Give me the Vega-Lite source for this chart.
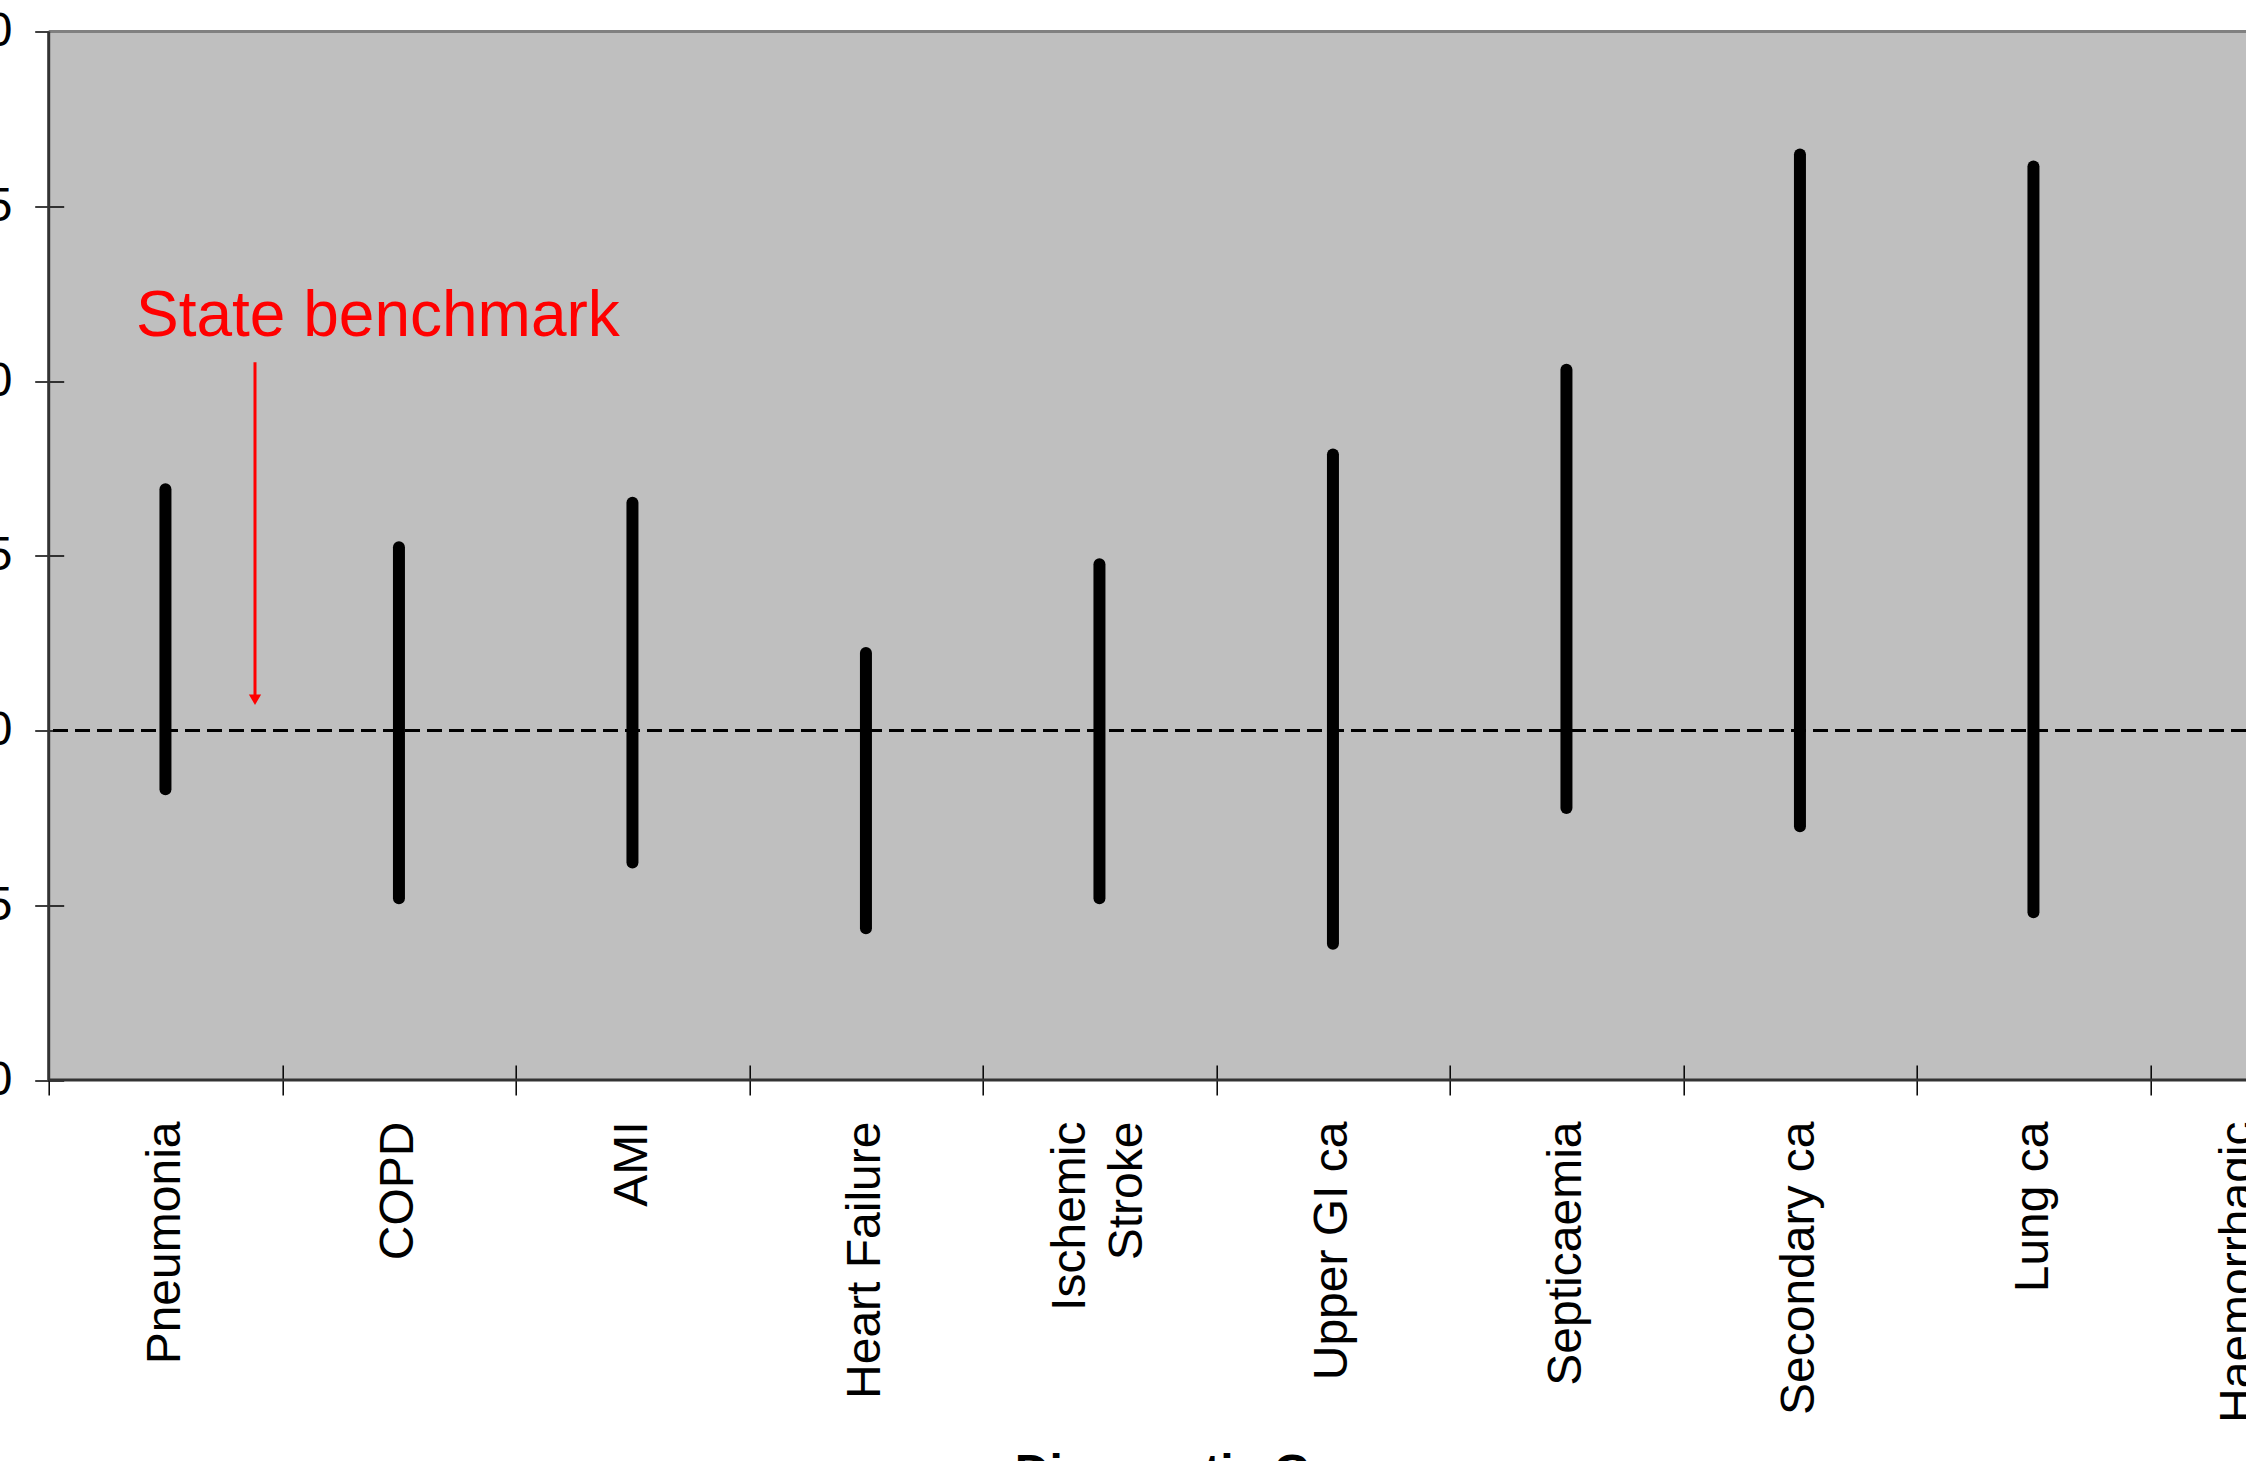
{
  "$schema": "https://vega.github.io/schema/vega-lite/v6.json",
  "autosize": {"type": "none"},
  "padding": {"left": 48.7, "top": 31.5, "right": 0, "bottom": 381},
  "width": 2197.3,
  "height": 1048.5,
  "background": "white",
  "config": {
    "view": {"fill": "#bfbfbf", "stroke": null},
    "font": "Liberation Sans"
  },
  "datasets": {
    "bars": [
      {"group": "Pneumonia", "lo": 0.916, "hi": 1.345},
      {"group": "COPD", "lo": 0.760, "hi": 1.262},
      {"group": "AMI", "lo": 0.811, "hi": 1.326},
      {"group": "Heart Failure", "lo": 0.717, "hi": 1.111},
      {"group": "Ischemic Stroke", "lo": 0.760, "hi": 1.238},
      {"group": "Upper GI ca", "lo": 0.695, "hi": 1.395},
      {"group": "Septicaemia", "lo": 0.889, "hi": 1.516},
      {"group": "Secondary ca", "lo": 0.863, "hi": 1.824},
      {"group": "Lung ca", "lo": 0.740, "hi": 1.807},
      {"group": "Haemorrhagic Stroke", "lo": 0.80, "hi": 1.60}
    ],
    "note": [
      {"group": "Pneumonia", "label": "State benchmark", "ytext": 1.564, "yarrowTop": 1.527, "yarrowEnd": 1.05, "yhead": 1.044}
    ],
    "frame": [
      {"group": "Pneumonia", "benchmark": 1.0, "top": 2.0, "bottom": 0.5}
    ]
  },
  "encoding": {
    "x": {
      "field": "group",
      "type": "nominal",
      "sort": null,
      "scale": {
        "domain": ["Pneumonia", "COPD", "AMI", "Heart Failure", "Ischemic Stroke", "Upper GI ca", "Septicaemia", "Secondary ca", "Lung ca", "Haemorrhagic Stroke"],
        "range": [0, 2335],
        "paddingInner": 0,
        "paddingOuter": 0
      },
      "axis": {
        "orient": "bottom",
        "offset": -15,
        "tickSize": 30,
        "tickBand": "extent",
        "tickColor": "black",
        "tickWidth": 1.5,
        "domain": false,
        "labelAngle": -90,
        "labelAlign": "right",
        "labelBaseline": "middle",
        "labelPadding": 26,
        "labelOffset": {"condition": {"test": "indexof(datum.label, ' Stroke') > 0", "value": -28.5}, "value": 0},
        "labelFont": "Liberation Sans",
        "labelFontSize": 48,
        "labelColor": "black",
        "labelOverlap": false,
        "labelBound": false,
        "labelLimit": 2000,
        "labelLineHeight": 57,
        "labelExpr": "indexof(datum.label, ' Stroke') > 0 ? [replace(datum.label, ' Stroke', ''), 'Stroke'] : datum.label",
        "title": "Diagnostic Group",
        "titleFont": "Liberation Sans",
        "titleFontSize": 48,
        "titleFontWeight": "bold",
        "titleColor": "black",
        "titleX": 1167,
        "titleY": 384,
        "titleAlign": "center",
        "titleBaseline": "top"
      }
    }
  },
  "layer": [
    {
      "data": {"name": "frame"},
      "mark": {"type": "rule", "color": "black", "strokeWidth": 3, "strokeDash": [15, 7]},
      "encoding": {"x": null, "y": {"field": "benchmark", "type": "quantitative"}}
    },
    {
      "data": {"name": "bars"},
      "mark": {"type": "rule", "color": "black", "strokeWidth": 12, "strokeCap": "round"},
      "encoding": {
        "y": {
          "field": "lo",
          "type": "quantitative",
          "scale": {"domain": [0.5, 2.0], "nice": false, "zero": false},
          "axis": {
            "offset": -15,
            "tickSize": 29,
            "tickColor": "black",
            "tickWidth": 1.5,
            "domain": false,
            "grid": false,
            "values": [0.5, 0.75, 1.0, 1.25, 1.5, 1.75, 2.0],
            "format": ".2f",
            "labelPadding": 22.7,
            "labelFont": "Liberation Sans",
            "labelFontSize": 48,
            "labelColor": "black",
            "labelOverlap": false,
            "labelBound": false,
            "title": null
          }
        },
        "y2": {"field": "hi"}
      }
    },
    {
      "data": {"name": "note"},
      "mark": {"type": "rule", "color": "#ff0000", "strokeWidth": 3},
      "encoding": {
        "x": {"field": "group", "type": "nominal", "bandPosition": 0.8835},
        "y": {"field": "yarrowTop", "type": "quantitative"},
        "y2": {"field": "yarrowEnd"}
      }
    },
    {
      "data": {"name": "note"},
      "mark": {"type": "point", "shape": "triangle-down", "filled": true, "color": "#ff0000", "opacity": 1, "size": 150},
      "encoding": {
        "x": {"field": "group", "type": "nominal", "bandPosition": 0.8835},
        "y": {"field": "yhead", "type": "quantitative"}
      }
    },
    {
      "data": {"name": "note"},
      "mark": {"type": "text", "color": "#ff0000", "font": "Liberation Sans", "fontSize": 64, "align": "left", "baseline": "alphabetic"},
      "encoding": {
        "x": {"field": "group", "type": "nominal", "bandPosition": 0.374},
        "y": {"field": "ytext", "type": "quantitative"},
        "text": {"field": "label"}
      }
    },
    {
      "data": {"name": "frame"},
      "mark": {"type": "rule", "color": "#808080", "strokeWidth": 3},
      "encoding": {"x": null, "y": {"field": "top", "type": "quantitative"}}
    },
    {
      "data": {"name": "frame"},
      "mark": {"type": "rule", "color": "#333333", "strokeWidth": 3},
      "encoding": {"x": null, "y": {"field": "bottom", "type": "quantitative"}}
    },
    {
      "data": {"name": "frame"},
      "mark": {"type": "rule", "color": "#333333", "strokeWidth": 3},
      "encoding": {
        "x": {"field": "group", "type": "nominal", "bandPosition": 0}
      }
    }
  ]
}
